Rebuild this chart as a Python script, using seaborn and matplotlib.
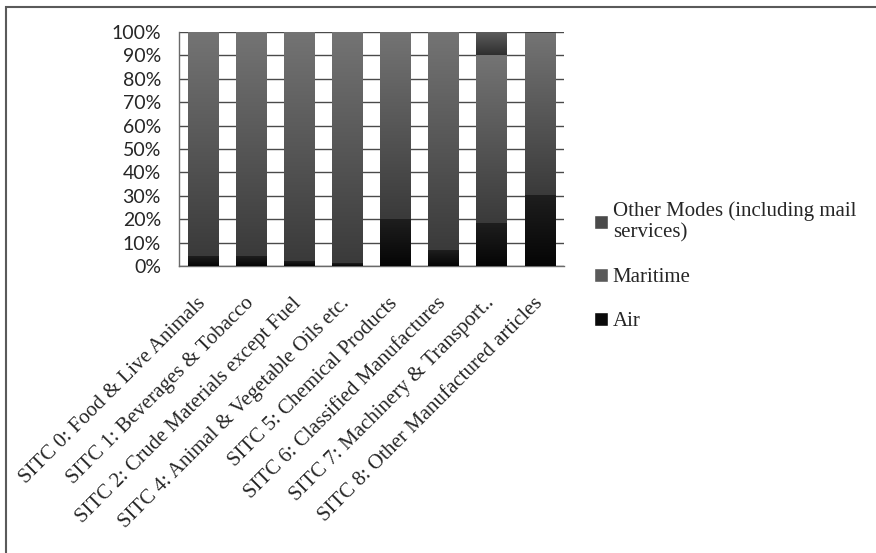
import numpy as np
import pandas as pd
import matplotlib
matplotlib.use("Agg")
import matplotlib.pyplot as plt
import matplotlib.transforms as mtransforms
import seaborn as sns
from matplotlib.patches import Rectangle
from matplotlib.colors import LinearSegmentedColormap
from matplotlib.ticker import PercentFormatter

# dati (quote % per modo di trasporto)
categorie = [
    "SITC 0: Food & Live Animals",
    "SITC 1: Beverages & Tobacco",
    "SITC 2: Crude Materials except Fuel",
    "SITC 4: Animal & Vegetable Oils etc.",
    "SITC 5: Chemical Products",
    "SITC 6: Classified Manufactures",
    "SITC 7: Machinery & Transport..",
    "SITC 8: Other Manufactured articles",
]
air = [4.0, 4.0, 2.0, 1.0, 20.0, 6.5, 18.0, 30.0]
maritime = [96.0, 96.0, 98.0, 99.0, 80.0, 93.5, 72.0, 69.5]
other_modes = [0.0, 0.0, 0.0, 0.0, 0.0, 0.0, 10.0, 0.5]
serie = ["Air", "Maritime", "Other Modes (including mail\nservices)"]

sns.set_theme(style="white")
plt.rcParams["font.family"] = ["Liberation Serif", "DejaVu Serif"]

df = pd.DataFrame({"cat": categorie, "air": air, "mar": maritime, "oth": other_modes})
df["c1"] = df["air"]
df["c2"] = df["c1"] + df["mar"]
df["c3"] = df["c2"] + df["oth"]

fig = plt.figure(figsize=(8.76, 5.53), dpi=100)
ax = fig.add_axes([179 / 876, 1 - 266 / 553, 385 / 876, 234 / 553])

# colori gradiente (basso, alto)
colori = {
    "c3": ("#2f2f2f", "#5e5e5e"),
    "c2": ("#3a3a3a", "#747474"),
    "c1": ("#050505", "#1e1e1e"),
}

patch_per_layer = {}
for col in ["c3", "c2", "c1"]:
    n_prima = len(ax.patches)
    sns.barplot(data=df, x="cat", y=col, color=colori[col][1], saturation=1,
                width=0.64, ax=ax, zorder=2)
    patch_per_layer[col] = ax.patches[n_prima:]

gradiente = np.linspace(0, 1, 256).reshape(-1, 1)
basi = {"c3": "c2", "c2": "c1", "c1": None}
for col, patches in patch_per_layer.items():
    cmap = LinearSegmentedColormap.from_list(col, list(colori[col]))
    for i, p in enumerate(patches):
        top = p.get_height()
        bottom = 0 if basi[col] is None else patch_per_layer[basi[col]][i].get_height()
        if top - bottom <= 0:
            p.set_alpha(0)
            continue
        x0 = p.get_x()
        x1 = x0 + p.get_width()
        ax.imshow(gradiente, cmap=cmap, origin="lower", aspect="auto",
                  extent=(x0, x1, bottom, top), zorder=3 + ["c3", "c2", "c1"].index(col),
                  interpolation="bilinear")
        p.set_alpha(0)

ax.set_xlim(-0.5, 7.5)
ax.set_ylim(0, 100)
ax.set_yticks(np.arange(0, 101, 10))
ax.yaxis.set_major_formatter(PercentFormatter(decimals=0))
ax.yaxis.grid(True, color="#4a4a4a", lw=1, zorder=0)
ax.set_axisbelow(True)
for s in ["top", "right"]:
    ax.spines[s].set_visible(False)
for s in ["left", "bottom"]:
    ax.spines[s].set_color("#6a6a6a")
    ax.spines[s].set_linewidth(1)
ax.set_xlabel("")
ax.set_ylabel("")
ax.tick_params(axis="y", length=0, pad=13)
ax.tick_params(axis="x", length=0, pad=20)
for t in ax.get_yticklabels():
    t.set_fontfamily("Lato")
    t.set_fontsize(14)
ax.set_xticks(range(len(categorie)))
ax.set_xticklabels(categorie, rotation=45, ha="right", va="top", rotation_mode="anchor",
                   fontsize=15, family="Liberation Serif")
spost = mtransforms.ScaledTranslation(-7 / 100, 0, fig.dpi_scale_trans)
for t in ax.get_xticklabels():
    t.set_transform(t.get_transform() + spost)

# legenda
maniglie = [
    Rectangle((0, 0), 1, 1, facecolor="#4a4a4a"),
    Rectangle((0, 0), 1, 1, facecolor="#5a5a5a"),
    Rectangle((0, 0), 1, 1, facecolor="#0a0a0a"),
]
fig.legend(maniglie, [serie[2], serie[1], serie[0]], loc="upper left",
           bbox_to_anchor=(594 / 876, 1 - 201 / 553), frameon=False,
           prop={"family": "Liberation Serif", "size": 15},
           handlelength=0.65, handleheight=0.65, handletextpad=0.25,
           labelspacing=1.2, borderaxespad=0, borderpad=0)

# cornice esterna
fig.patches.append(Rectangle((6 / 876, -0.1), 2, 1.1 - 7 / 553, transform=fig.transFigure,
                             fill=False, edgecolor="#5a5a5a", lw=1.5))

plt.savefig("out.png", dpi=100)
